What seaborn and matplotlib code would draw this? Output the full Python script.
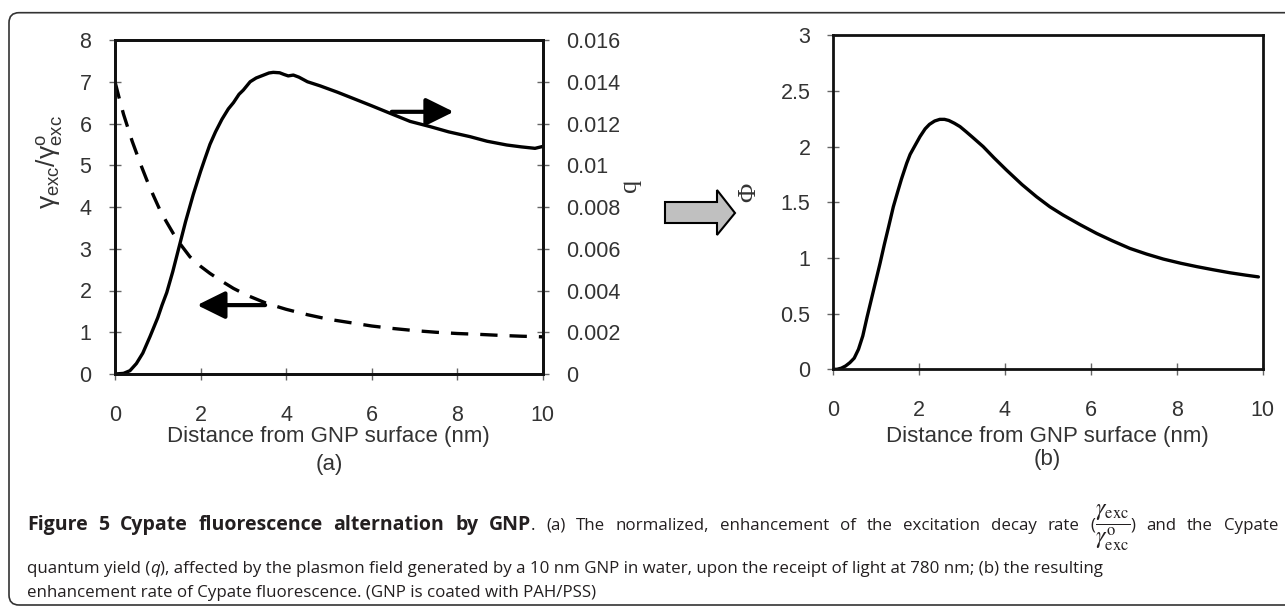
import numpy as np
import pandas as pd
import matplotlib
matplotlib.use("Agg")
import matplotlib.pyplot as plt
import seaborn as sns
from matplotlib.patches import FancyBboxPatch, Polygon
from matplotlib.transforms import IdentityTransform
from matplotlib.ticker import FuncFormatter, MultipleLocator

# ---------------- data ----------------
dist_gamma = [0, 0.1, 0.2, 0.3, 0.4, 0.5, 0.6, 0.75, 0.9, 1.05, 1.2, 1.36, 1.55, 1.75,
              2.0, 2.22, 2.5, 2.77, 3.1, 3.55, 4.0, 4.5, 5.0, 5.5, 6.0, 6.5, 7.0,
              7.5, 8.0, 8.5, 9.0, 9.5, 10.0]
gamma_ratio = [7.0, 6.6, 6.22, 5.9, 5.58, 5.3, 5.02, 4.63, 4.27, 3.93, 3.65, 3.37, 3.08, 2.81,
               2.58, 2.41, 2.22, 2.05, 1.88, 1.69, 1.55, 1.42, 1.31, 1.23, 1.15, 1.09, 1.04,
               1.00, 0.97, 0.95, 0.925, 0.905, 0.89]

dist_q = [0, 0.2, 0.35, 0.5, 0.65, 0.82, 1.0, 1.1, 1.21, 1.35, 1.5, 1.65, 1.83, 2.0, 2.1,
          2.22, 2.35, 2.5, 2.65, 2.77, 2.9, 3.0, 3.16, 3.3, 3.45, 3.6, 3.7, 3.85, 3.95,
          4.05, 4.17, 4.3, 4.5, 4.8, 5.2, 5.57, 6.0, 6.43, 6.9, 7.37, 7.8, 8.3, 8.7, 9.16,
          9.5, 9.82, 10.0]
q_yield = [0, 0.00003, 0.00016, 0.0005, 0.0010, 0.0018, 0.0027, 0.0033, 0.0039, 0.0049,
           0.0061, 0.0073, 0.0086, 0.0097, 0.0103, 0.0110, 0.0116, 0.0122, 0.0127, 0.0130,
           0.0134, 0.0136, 0.0140, 0.01418, 0.0143, 0.01442, 0.01445, 0.01443, 0.01435,
           0.01428, 0.01432, 0.01422, 0.0140, 0.0138, 0.0135, 0.0132, 0.01285, 0.01249,
           0.0121, 0.01185, 0.0116, 0.01137, 0.01115, 0.01097, 0.01088, 0.01081, 0.0109]

dist_phi = [0, 0.1, 0.2, 0.3, 0.4, 0.5, 0.6, 0.7, 0.8, 0.9, 1.0, 1.1, 1.2, 1.3, 1.41,
            1.5, 1.6, 1.72, 1.8, 1.9, 2.03, 2.15, 2.25, 2.37, 2.49, 2.6, 2.7, 2.83, 2.96,
            3.1, 3.25, 3.5, 3.75, 4.04, 4.4, 4.74, 5.05, 5.36, 5.75, 6.14, 6.5, 6.91,
            7.3, 7.69, 8.1, 8.47, 8.85, 9.24, 9.6, 9.9]
phi = [0, 0.0, 0.01, 0.03, 0.06, 0.1, 0.18, 0.3, 0.47, 0.63, 0.79, 0.95, 1.12, 1.28, 1.46,
       1.58, 1.71, 1.85, 1.93, 2.0, 2.09, 2.16, 2.2, 2.23, 2.245, 2.245, 2.235, 2.21, 2.18,
       2.135, 2.085, 2.0, 1.9, 1.79, 1.66, 1.55, 1.46, 1.385, 1.30, 1.22, 1.155, 1.086,
       1.035, 0.99, 0.952, 0.922, 0.894, 0.867, 0.846, 0.83]

x_ticks = [0, 2, 4, 6, 8, 10]
xlabel = "Distance from GNP surface (nm)"

df_g = pd.DataFrame({"d": dist_gamma, "v": gamma_ratio})
df_q = pd.DataFrame({"d": dist_q, "v": q_yield})
df_p = pd.DataFrame({"d": dist_phi, "v": phi})

# ---------------- style ----------------
sns.set_theme(style="white")
plt.rcParams["font.family"] = ["Liberation Sans", "DejaVu Sans"]
plt.rcParams["mathtext.fontset"] = "custom"
plt.rcParams["mathtext.rm"] = "Liberation Sans"
plt.rcParams["mathtext.it"] = "Liberation Sans:italic"

W, H = 1285, 609
fig = plt.figure(figsize=(W / 100, H / 100), dpi=100)
fig.patch.set_facecolor("white")


def px_axes(l, t, r, b):
    return [l / W, 1 - b / H, (r - l) / W, (b - t) / H]


ax1 = fig.add_axes(px_axes(115, 40, 542.7, 374))
ax2 = ax1.twinx()
ax3 = fig.add_axes(px_axes(832.7, 35.3, 1262.7, 369.3))

LC = "black"
sns.lineplot(data=df_g, x="d", y="v", ax=ax1, color=LC, lw=2.4,
             linestyle=(0, (5.2, 3.6)), estimator=None, sort=False)
sns.lineplot(data=df_q, x="d", y="v", ax=ax2, color=LC, lw=2.4,
             estimator=None, sort=False)
sns.lineplot(data=df_p, x="d", y="v", ax=ax3, color=LC, lw=2.4,
             estimator=None, sort=False)

TICK_FS = 15.5
TC = "#333333"
fmt = FuncFormatter(lambda v, p: "%g" % round(v, 4))

for ax in (ax1, ax2, ax3):
    for s in ax.spines.values():
        s.set_linewidth(2.0)
        s.set_color("#111111")
        s.set_visible(True)

ax1.set_xlim(0, 10)
ax1.set_ylim(0, 8)
ax2.set_ylim(0, 0.016)
ax3.set_xlim(0, 10)
ax3.set_ylim(0, 3)

ax1.set_xticks(x_ticks)
ax3.set_xticks(x_ticks)
ax1.yaxis.set_major_locator(MultipleLocator(1))
ax2.yaxis.set_major_locator(MultipleLocator(0.002))
ax3.yaxis.set_major_locator(MultipleLocator(0.5))
for ax in (ax1, ax2, ax3):
    ax.yaxis.set_major_formatter(fmt)
    ax.xaxis.set_major_formatter(fmt)

common = dict(direction="inout", length=8, width=1.0, color="#666666",
              labelsize=TICK_FS, labelcolor=TC)
ax1.tick_params(axis="x", bottom=True, top=False, pad=18, **common)
ax1.tick_params(axis="y", left=True, right=False, pad=13, **common)
ax2.tick_params(axis="y", right=True, left=False, labelright=True, pad=13, **common)
ax2.tick_params(axis="x", bottom=False, top=False)
ax3.tick_params(axis="x", bottom=True, top=False, pad=18, **common)
ax3.tick_params(axis="y", left=True, right=False, pad=12, **common)

# axis labels
LAB_FS = 16
ax1.set_xlabel(xlabel, fontsize=LAB_FS, color=TC)
ax1.xaxis.set_label_coords(0.5, -0.155)
ax3.set_xlabel(xlabel, fontsize=LAB_FS, color=TC)
ax3.xaxis.set_label_coords(0.5, -0.169)

ax1.set_ylabel(r"$\mathregular{\gamma_{exc}/\gamma^{o}_{exc}}$", fontsize=19, color=TC, va="center")
ax1.yaxis.set_label_coords(-0.154, 0.635)
ax2.set_ylabel("q", fontsize=19, color=TC, family=["Liberation Serif"], rotation=90, va="center")
ax2.yaxis.set_label_coords(1.204, 0.566)
ax3.set_ylabel("\u03a6", fontsize=19, color=TC, family=["Liberation Serif"], rotation=90, va="center")
ax3.yaxis.set_label_coords(-0.1947, 0.531)

ax1.text(0.5, -0.2695, "(a)", transform=ax1.transAxes, ha="center", va="center",
         fontsize=LAB_FS, color=TC)
ax3.text(0.5, -0.2686, "(b)", transform=ax3.transAxes, ha="center", va="center",
         fontsize=LAB_FS, color=TC)

# direction arrows
arr = dict(arrowstyle="-|>,head_length=0.85,head_width=0.42", mutation_scale=20,
           lw=3.0, color="black", shrinkA=0, shrinkB=0)
ax1.annotate("", xy=(1.92, 1.65), xytext=(3.51, 1.65), arrowprops=arr)
ax1.annotate("", xy=(7.92, 6.28), xytext=(6.47, 6.28), arrowprops=arr)

# gray block arrow between panels (pixel coords, image y downwards)
blk = [(665, 202), (717, 202), (717, 190), (735, 213), (717, 235), (717, 223), (665, 223)]
poly = Polygon([(x, H - y) for x, y in blk], closed=True, facecolor="#c0c0c0",
               edgecolor="black", lw=1.5, transform=IdentityTransform())
fig.add_artist(poly)

# outer rounded border
border = FancyBboxPatch((9, 4), 1300, 592.3, boxstyle="round,pad=0,rounding_size=10",
                        fill=False, edgecolor="#333333", lw=1.2,
                        transform=IdentityTransform())
fig.add_artist(border)

# ---------------- caption ----------------
CFS = 12.2
CC = "#231f20"
renderer = fig.canvas.get_renderer()
IT = IdentityTransform()
cap_font = ["Open Sans", "DejaVu Sans"]
bold_kw = dict(family=cap_font, fontweight="bold", fontsize=14)
reg_kw = dict(family=cap_font, fontsize=CFS)
frac_kw = dict(fontsize=17, math_fontfamily="stix")
FRAC = r"$\dfrac{\gamma_{\mathrm{exc}}}{\gamma^{\mathrm{o}}_{\mathrm{exc}}}$"


def width_of(s, kw):
    t = fig.text(0, 0, s, transform=IT, **kw)
    w = t.get_window_extent(renderer).width
    t.remove()
    return w


def put(x, y_img, s, kw):
    t = fig.text(x, H - y_img, s, transform=IT, va="baseline", ha="left",
                 color=CC, **kw)
    return t.get_window_extent(renderer).x1


# line 1: justified between x=27 and x=1278 ; (text, style, space-before)
line1 = [("Figure", bold_kw, False), ("5", bold_kw, True), ("Cypate", bold_kw, True),
         ("fluorescence", bold_kw, True), ("alternation", bold_kw, True),
         ("by", bold_kw, True), ("GNP", bold_kw, True), (".", reg_kw, False),
         ("(a)", reg_kw, True), ("The", reg_kw, True), ("normalized,", reg_kw, True),
         ("enhancement", reg_kw, True), ("of", reg_kw, True), ("the", reg_kw, True),
         ("excitation", reg_kw, True), ("decay", reg_kw, True), ("rate", reg_kw, True),
         ("(", reg_kw, True), (FRAC, frac_kw, False), (")", reg_kw, False),
         ("and", reg_kw, True), ("the", reg_kw, True), ("Cypate", reg_kw, True)]
x_left, x_right = 27, 1278
widths = [width_of(s, kw) for s, kw, _ in line1]
n_gaps = sum(1 for _, _, sp in line1 if sp)
gap = (x_right - x_left - sum(widths)) / n_gaps
x = x_left
y1 = 530
for (s, kw, sp), w in zip(line1, widths):
    if sp:
        x += gap
    put(x, y1, s, kw)
    x += w

# lines 2 and 3, left aligned
x = put(27, 573, "quantum yield (", reg_kw)
x = put(x, 573, "q", dict(reg_kw, fontstyle="italic"))
put(x, 573, "), affected by the plasmon field generated by a 10 nm GNP in water, upon the receipt of light at 780 nm; (b) the resulting",
    reg_kw)
put(27, 597, "enhancement rate of Cypate fluorescence. (GNP is coated with PAH/PSS)", reg_kw)

fig.savefig("out.png", dpi=100, facecolor="white")
